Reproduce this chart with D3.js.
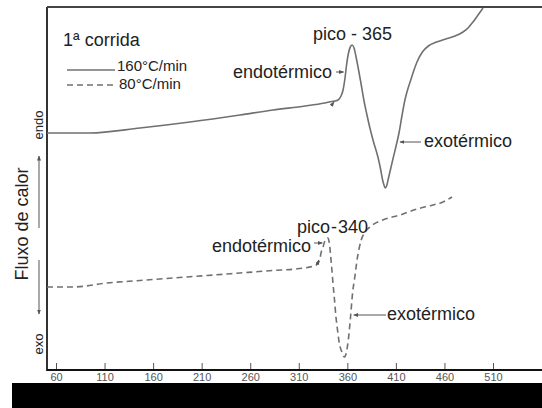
<!DOCTYPE html>
<html>
<head>
<meta charset="utf-8">
<script src="https://cdn.jsdelivr.net/npm/d3@7"></script>
<style>
  html, body { margin: 0; padding: 0; background: #fff; }
  svg { display: block; }
  text { font-family: "Liberation Sans", Arial, Helvetica, sans-serif; fill: #222; }
</style>
</head>
<body>
<svg id="chart" width="542" height="408"></svg>
<script>
// Temperature tick labels (°C)
const tickLabels = [60, 110, 160, 210, 260, 310, 360, 410, 460, 510];

// 1ª corrida, 160 °C/min: temperature (°C) and heat-flow (arbitrary units)
const runFastT = [50.7, 95.0, 146.5, 198.0, 249.5, 283.5, 316.6, 336.6, 344.2, 347.3, 350.4, 353.5, 355.6, 357.6, 359.2, 361.2, 363.3, 365.0, 366.9, 369.0, 371.0, 374.0, 377.0, 380.0, 383.0, 387.3, 391.5, 394.0, 396.3, 397.9, 399.1, 400.6, 402.4, 404.8, 407.2, 410.2, 413.2, 416.2, 419.3, 422.3, 425.3, 428.3, 431.3, 437.3, 443.4, 451.9, 462.7, 470.9, 479.1, 484.3, 489.4, 494.6, 499.7];
const runFastQ = [23.8, 23.8, 24.3, 24.9, 25.6, 26.1, 26.5, 26.8, 26.95, 27.0, 27.1, 27.5, 28.1, 29.3, 30.6, 31.8, 32.45, 32.6, 32.3, 31.4, 30.4, 28.8, 27.1, 25.7, 24.4, 22.8, 21.4, 20.3, 19.1, 18.55, 18.3, 18.55, 19.3, 20.3, 21.3, 22.5, 23.8, 25.5, 27.1, 28.2, 29.1, 30.0, 30.8, 31.9, 32.5, 32.9, 33.25, 33.5, 33.9, 34.3, 34.9, 35.6, 36.3];

// 1ª corrida, 80 °C/min
const runSlowT = [50.7, 77.5, 112.5, 146.5, 180.5, 215.5, 249.5, 283.5, 315.6, 323.6, 328.0, 329.8, 331.7, 332.9, 335.0, 336.5, 338.1, 340.0, 341.6, 343.2, 344.2, 345.2, 346.8, 348.3, 349.9, 351.7, 354.4, 357.1, 359.1, 361.0, 363.3, 365.4, 367.7, 370.0, 374.3, 378.3, 383.2, 396.5, 414.3, 431.8, 448.2, 458.5, 467.8];
const runSlowQ = [8.4, 8.4, 8.8, 9.05, 9.3, 9.55, 9.8, 10.05, 10.3, 10.45, 10.6, 10.8, 11.2, 11.8, 12.4, 12.9, 13.2, 13.3, 12.7, 11.1, 10.0, 8.8, 7.1, 5.4, 4.1, 2.8, 1.9, 1.4, 1.9, 3.1, 5.4, 7.8, 9.4, 11.1, 13.1, 13.9, 14.4, 15.1, 15.6, 16.2, 16.6, 16.9, 17.4];

// Peak temperatures written on the chart
const peakFast = 365;
const peakSlow = 340;

const svg = d3.select("#chart");
const W = 542, H = 408;
const frame = { left: 47, top: 7, right: 542, bottom: 370 };

const x = d3.scaleLinear().domain([60, 510]).range([56, 493]);
const y = d3.scaleLinear().domain([0, 36.4]).range([371, 7]);

const ink = "#707070";

svg.append("defs").append("clipPath").attr("id", "plot")
  .append("rect")
  .attr("x", frame.left).attr("y", frame.top)
  .attr("width", frame.right - frame.left).attr("height", frame.bottom - frame.top);

const defs = svg.select("defs");
function marker(id, color) {
  defs.append("marker")
    .attr("id", id).attr("viewBox", "0 0 10 10")
    .attr("refX", 9).attr("refY", 5)
    .attr("markerWidth", 5).attr("markerHeight", 5)
    .attr("orient", "auto")
    .append("path").attr("d", "M0,1 L10,5 L0,9 Z").attr("fill", color);
}
marker("arrowG", "#555");

// frame: left and top borders
svg.append("line").attr("x1", frame.left).attr("x2", frame.left)
  .attr("y1", frame.top).attr("y2", frame.bottom + 1)
  .attr("stroke", "#333").attr("stroke-width", 2);
svg.append("line").attr("x1", frame.left).attr("x2", frame.right)
  .attr("y1", frame.top).attr("y2", frame.top)
  .attr("stroke", "#444").attr("stroke-width", 2);

// temperature axis
const axis = d3.axisBottom(x)
  .tickValues(tickLabels)
  .tickSize(-7)
  .tickSizeOuter(0)
  .tickPadding(3)
  .tickFormat(d3.format("d"));
const gx = svg.append("g").attr("transform", `translate(0,${frame.bottom})`).call(axis);
gx.select(".domain").remove();
gx.selectAll(".tick line").attr("stroke", "#555").attr("stroke-width", 1);
gx.selectAll(".tick text")
  .attr("font-size", 11)
  .style("fill", "#555")
  .attr("font-family", "'Liberation Sans', Arial, sans-serif");
svg.append("line").attr("x1", frame.left).attr("x2", frame.right)
  .attr("y1", frame.bottom).attr("y2", frame.bottom)
  .attr("stroke", "#111").attr("stroke-width", 2);

// curves
const line = d3.line()
  .x(d => x(d[0])).y(d => y(d[1]))
  .curve(d3.curveMonotoneX);

const fast = runFastT.map((t, i) => [t, runFastQ[i]]);
const slow = runSlowT.map((t, i) => [t, runSlowQ[i]]);

const curves = svg.append("g").attr("clip-path", "url(#plot)");
curves.append("path").datum(fast)
  .attr("d", line).attr("fill", "none")
  .attr("stroke", ink).attr("stroke-width", 1.6);
curves.append("path").datum(slow)
  .attr("d", line).attr("fill", "none")
  .attr("stroke", ink).attr("stroke-width", 1.6)
  .attr("stroke-dasharray", "6,4");

// legend
svg.append("text").attr("x", 63).attr("y", 46).attr("font-size", 18).text("1ª corrida");
svg.append("line").attr("x1", 67).attr("x2", 115).attr("y1", 70).attr("y2", 70)
  .attr("stroke", ink).attr("stroke-width", 1.4);
svg.append("text").attr("x", 117).attr("y", 71).attr("font-size", 15).text("160°C/min");
svg.append("line").attr("x1", 67).attr("x2", 115).attr("y1", 85).attr("y2", 85)
  .attr("stroke", ink).attr("stroke-width", 1.4).attr("stroke-dasharray", "6,4");
svg.append("text").attr("x", 119).attr("y", 89).attr("font-size", 15).text("80°C/min");

// vertical label with endo / exo arrows
svg.append("text")
  .attr("transform", "translate(28,224) rotate(-90)")
  .attr("text-anchor", "middle").attr("font-size", 18)
  .text("Fluxo de calor");
svg.append("text")
  .attr("transform", "translate(43,125) rotate(-90)")
  .attr("text-anchor", "middle").attr("font-size", 13)
  .text("endo");
svg.append("text")
  .attr("transform", "translate(43,344) rotate(-90)")
  .attr("text-anchor", "middle").attr("font-size", 13)
  .text("exo");
svg.append("line").attr("x1", 39).attr("x2", 39).attr("y1", 228).attr("y2", 156)
  .attr("stroke", "#555").attr("stroke-width", 1).attr("marker-end", "url(#arrowG)");
svg.append("line").attr("x1", 39).attr("x2", 39).attr("y1", 260).attr("y2", 314)
  .attr("stroke", "#555").attr("stroke-width", 1).attr("marker-end", "url(#arrowG)");

// annotations
const label = (tx, ty, s, size = 18) =>
  svg.append("text").attr("x", tx).attr("y", ty).attr("font-size", size).text(s);
function arrow(x1, y1, x2, y2) {
  svg.append("line").attr("x1", x1).attr("y1", y1).attr("x2", x2).attr("y2", y2)
    .attr("stroke", "#555").attr("stroke-width", 1).attr("marker-end", "url(#arrowG)");
}

// upper run
label(313, 40, `pico - ${peakFast}`);
label(233, 78, "endotérmico");
arrow(336, 72, x(358.2) - 2, 72);
label(424, 147, "exotérmico");
arrow(421, 142, x(411.1) + 3, 142);
arrow(x(347.3) - 4, y(27.0) + 5, x(347.3) - 1, y(27.0) + 1);

// lower run
const pk = label(297, 233, "pico");
pk.append("tspan").attr("dx", 1).text("-");
pk.append("tspan").attr("dx", 1).text(peakSlow);
label(212, 252, "endotérmico");
arrow(314, 243, x(336.3) - 2, 243);
label(387, 320, "exotérmico");
arrow(386, 315, x(363.5) + 3, 315);
arrow(x(331.7) - 3, y(11.2) + 6, x(331.7) - 1, y(11.2) + 1);

// dark band along the bottom edge
svg.append("rect").attr("x", 12).attr("y", 383).attr("width", W - 12).attr("height", H - 383)
  .attr("fill", "#000");
</script>
</body>
</html>
